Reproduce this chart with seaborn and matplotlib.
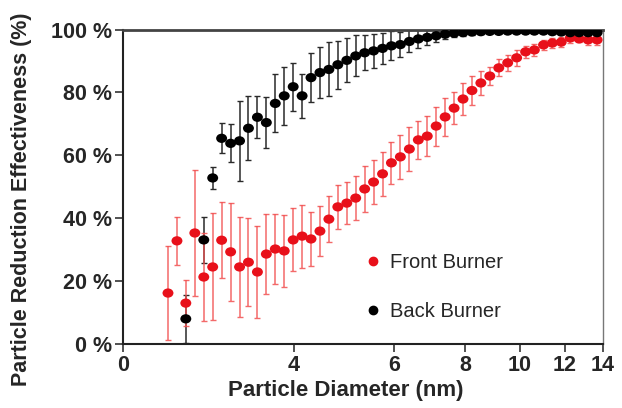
import numpy as np
import pandas as pd
import matplotlib
matplotlib.use("Agg")
import matplotlib.pyplot as plt
from matplotlib.path import Path
from matplotlib.transforms import Affine2D
from matplotlib.lines import Line2D
import seaborn as sns

# ---- data ----
diameters = [2.400, 2.489, 2.580, 2.676, 2.775, 2.877, 2.983, 3.094, 3.208, 3.326,
             3.449, 3.576, 3.708, 3.845, 3.987, 4.134, 4.286, 4.444, 4.608, 4.778,
             4.955, 5.137, 5.327, 5.523, 5.728, 5.938, 6.157, 6.386, 6.622, 6.866,
             7.119, 7.382, 7.655, 7.937, 8.230, 8.533, 8.848, 9.175, 9.513, 9.865,
             10.23, 10.60, 11.00, 11.40, 11.82, 12.26, 12.71, 13.18, 13.67]

front_vals = [16.2, 32.8, 13.0, 35.3, 21.3, 24.5, 33.0, 29.3, 24.5, 26.0,
              22.9, 28.6, 30.2, 29.6, 33.1, 34.3, 33.4, 35.9, 39.7, 43.6,
              44.8, 46.4, 49.3, 51.5, 54.1, 57.6, 59.5, 62.0, 64.9, 66.1,
              69.3, 72.2, 75.0, 77.9, 80.6, 83.0, 85.2, 87.8, 89.4, 91.0,
              92.9, 93.5, 95.1, 95.7, 96.0, 97.3, 97.0, 96.7, 96.7]
front_err = [15.0, 7.6, 7.3, 20.0, 14.0, 17.0, 12.0, 15.5, 16.0, 14.0,
             14.5, 12.7, 11.0, 11.5, 10.0, 10.0, 8.5, 8.0, 7.3, 7.0,
             6.7, 7.0, 7.3, 7.0, 7.0, 6.7, 7.0, 7.0, 6.0, 6.4,
             6.2, 6.0, 5.0, 5.0, 4.5, 3.7, 3.0, 2.7, 2.5, 2.5,
             2.0, 2.0, 1.5, 1.5, 1.5, 1.5, 1.0, 1.5, 1.5]

nan = float("nan")
back_vals = [nan, nan, 8.0, nan, 33.1, 52.8, 65.4, 63.8, 64.6, 68.6,
             72.1, 70.4, 76.5, 78.9, 81.8, 78.9, 84.7, 86.3, 87.3, 88.8,
             90.2, 91.6, 92.6, 93.2, 94.0, 94.8, 95.2, 96.2, 97.0, 97.5,
             98.0, 98.5, 98.8, 99.0, 99.2, 99.3, 99.4, 99.4, 99.5, 99.5,
             99.5, 99.5, 99.5, 99.3, 99.2, 99.0, 99.0, 99.0, 99.0]
back_err = [nan, nan, 7.6, nan, 7.2, 3.5, 4.8, 6.0, 12.7, 10.2,
            6.7, 8.0, 9.2, 9.3, 7.7, 7.0, 7.8, 8.2, 8.6, 7.7,
            7.0, 6.5, 5.6, 5.5, 5.0, 4.6, 4.0, 3.5, 3.0, 2.5,
            2.0, 1.5, 1.2, 1.0, 0.8, 0.6, 0.5, 0.5, 0.5, 0.4,
            0.4, 0.4, 0.4, 0.5, 0.5, 0.5, 0.5, 0.5, 0.5]

series_names = ["Front Burner", "Back Burner"]
x_ticks = [2, 4, 6, 8, 10, 12, 14]
x_tick_labels = ["0", "4", "6", "8", "10", "12", "14"]
y_ticks = [0, 20, 40, 60, 80, 100]
y_tick_labels = ["0 %", "20 %", "40 %", "60 %", "80 %", "100 %"]

df = pd.concat([
    pd.DataFrame({"d": diameters, "v": front_vals, "e": front_err, "s": series_names[0]}),
    pd.DataFrame({"d": diameters, "v": back_vals, "e": back_err, "s": series_names[1]}),
]).dropna()

# ---- style ----
sns.set_style("ticks")
plt.rcParams["font.family"] = ["Liberation Sans", "DejaVu Sans"]

RED = "#e8101a"
BLACK = "#000000"
palette = {series_names[0]: RED, series_names[1]: BLACK}

# slightly wide oval marker, like the reference
oval = Path.unit_circle().transformed(Affine2D().scale(1.18, 1.0))

fig = plt.figure(figsize=(6.22, 4.08), dpi=100)
ax = fig.add_axes([123 / 622, 1 - 344 / 408, 480 / 622, 314.5 / 408])

back = df[df.s == series_names[1]]
front = df[df.s == series_names[0]]
ax.errorbar(back.d, back.v, yerr=back.e, fmt="none", ecolor="#2a2a2a",
            elinewidth=1.1, capsize=2, capthick=1.0, zorder=2)
ax.errorbar(front.d, front.v, yerr=front.e, fmt="none", ecolor="#f25050",
            elinewidth=1.1, capsize=2, capthick=1.0, zorder=2, alpha=0.85)

sns.scatterplot(data=df, x="d", y="v", hue="s", hue_order=[series_names[1], series_names[0]],
                palette=palette, s=62, marker=oval, edgecolor="none", linewidth=0, ax=ax,
                zorder=3, legend=False)

handles = [Line2D([], [], marker="o", ls="none", color=palette[n], markersize=6) for n in series_names]
leg = ax.legend(handles, series_names, loc="center left", bbox_to_anchor=(0.463, 0.18),
                frameon=False, fontsize=14.5, labelspacing=1.5, handletextpad=0.3,
                handlelength=1.0)

ax.set_xscale("log")
ax.set_xlim(2, 14)
ax.set_ylim(0, 100)
ax.xaxis.set_minor_locator(matplotlib.ticker.NullLocator())
ax.set_xticks(x_ticks)
ax.set_xticklabels(x_tick_labels)
ax.set_yticks(y_ticks)
ax.set_yticklabels(y_tick_labels)

for lab in ax.get_xticklabels() + ax.get_yticklabels():
    lab.set_fontweight("bold")
    lab.set_fontsize(15.5)
ax.tick_params(axis="both", direction="out", length=6, width=1.2, color="#333333", pad=2)

ax.set_xlabel("Particle Diameter (nm)", fontsize=16, fontweight="bold")
ax.xaxis.set_label_coords(0.465, -0.115)
ax.set_ylabel("Particle Reduction Effectiveness (%)", fontsize=15.5, fontweight="bold")
ax.yaxis.set_label_coords(-0.19, 0.46)

for side in ["left", "bottom"]:
    ax.spines[side].set_color("#222222")
    ax.spines[side].set_linewidth(1.5)
ax.spines["top"].set_color("#444444")
ax.spines["top"].set_linewidth(2.0)
ax.spines["right"].set_color("#777777")
ax.spines["right"].set_linewidth(1.0)
ax.spines["top"].set_visible(True)
ax.spines["right"].set_visible(True)

fig.savefig("out.png", dpi=100)
